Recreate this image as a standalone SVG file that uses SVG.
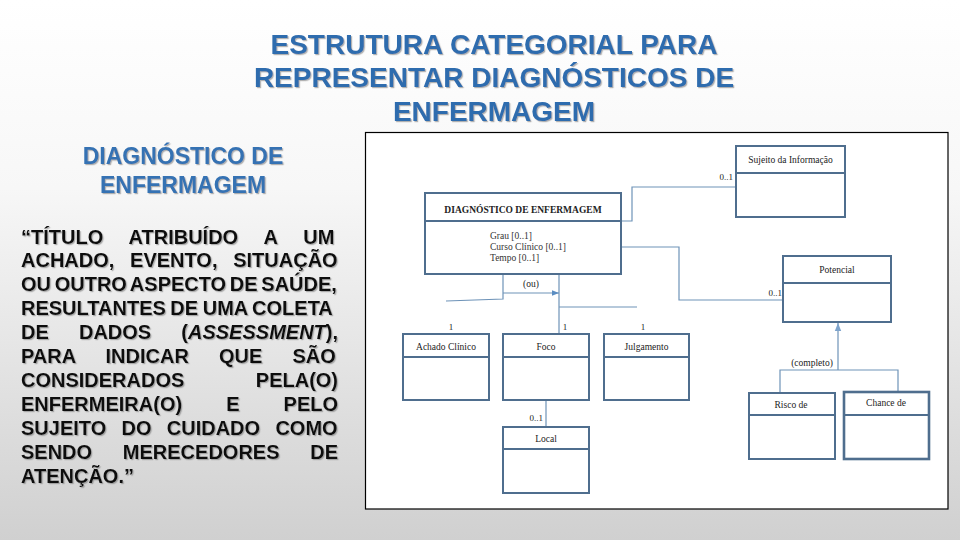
<svg xmlns="http://www.w3.org/2000/svg" width="960" height="540" viewBox="0 0 960 540">
<defs>
<linearGradient id="bg" x1="0" y1="0" x2="0" y2="1">
<stop offset="0" stop-color="#ffffff"/>
<stop offset="0.35" stop-color="#f7f7f7"/>
<stop offset="1" stop-color="#d0d0d0"/>
</linearGradient>
<filter id="sh" x="-5%" y="-20%" width="110%" height="140%">
<feDropShadow dx="1.2" dy="1.2" stdDeviation="0.6" flood-color="#808080" flood-opacity="0.6"/>
</filter>
<marker id="arr" viewBox="0 0 10 10" refX="10" refY="5" markerWidth="7" markerHeight="7" markerUnits="userSpaceOnUse" orient="auto">
<path d="M0,1 L10,5 L0,9 z" fill="#5b8dc2"/>
</marker>
<marker id="gen" viewBox="0 0 10 10" refX="10" refY="5" markerWidth="8" markerHeight="8" markerUnits="userSpaceOnUse" orient="auto">
<path d="M0,1 L10,5 L0,9 z" fill="#7ea4cc"/>
</marker>
<style>
.title{font-family:"Liberation Sans",Arial,sans-serif;font-weight:bold;font-size:28px;fill:#2f6cae;text-anchor:middle}
.head{font-family:"Liberation Sans",Arial,sans-serif;font-weight:bold;font-size:23px;fill:#3572b3;text-anchor:middle}
.body{font-family:"Liberation Sans",Arial,sans-serif;font-weight:bold;font-size:20px;fill:#111}
.box rect{fill:#ffffff;stroke:#4f6e8e;stroke-width:2}
.box line{stroke:#4f6e8e;stroke-width:2}
.lbl{font-family:"Liberation Serif","Times New Roman",serif;font-size:9.5px;fill:#222;text-anchor:middle}
.attr{font-family:"Liberation Serif","Times New Roman",serif;font-size:9.5px;fill:#333}
.mult{font-family:"Liberation Serif","Times New Roman",serif;font-size:9px;fill:#222}
.conn path{fill:none;stroke:#6e93b8;stroke-width:1.2}
</style>
</defs>
<rect x="0" y="0" width="960" height="540" fill="url(#bg)"/>

<g id="title" filter="url(#sh)">
<text class="title" x="494" y="54">ESTRUTURA CATEGORIAL PARA</text>
<text class="title" x="494" y="87">REPRESENTAR DIAGNÓSTICOS DE</text>
<text class="title" x="494" y="121">ENFERMAGEM</text>
</g>

<g id="definition" filter="url(#sh)">
<text class="head" x="183" y="164">DIAGNÓSTICO DE</text>
<text class="head" x="183" y="193">ENFERMAGEM</text>
<text class="body" x="21" y="243.5" word-spacing="20.49">“TÍTULO ATRIBUÍDO A UM</text>
<text class="body" x="21" y="267.4" word-spacing="10.16">ACHADO, EVENTO, SITUAÇÃO</text>
<text class="body" x="21" y="291.3" word-spacing="-1.87">OU OUTRO ASPECTO DE SAÚDE,</text>
<text class="body" x="21" y="315.2" word-spacing="-1">RESULTANTES DE UMA COLETA</text>
<text class="body" x="21" y="339.1" word-spacing="24.6">DE DADOS (<tspan font-style="italic">ASSESSMENT</tspan>),</text>
<text class="body" x="21" y="363" word-spacing="24.55">PARA INDICAR QUE SÃO</text>
<text class="body" x="21" y="386.9" word-spacing="65.88">CONSIDERADOS PELA(O)</text>
<text class="body" x="21" y="410.8" word-spacing="38.49">ENFERMEIRA(O) E PELO</text>
<text class="body" x="21" y="434.7" word-spacing="9.73">SUJEITO DO CUIDADO COMO</text>
<text class="body" x="21" y="458.6" word-spacing="25.15">SENDO MERECEDORES DE</text>
<text class="body" x="21" y="482.5">ATENÇÃO.”</text>
</g>

<rect id="frame" x="365.5" y="132.5" width="582.5" height="376.5" fill="#ffffff" stroke="#000000" stroke-width="1.2"/>

<g id="connectors" class="conn">
<path d="M621,221 H632 V187 H736"/>
<path d="M621,247 H679 V300 H783"/>
<path d="M503,274 V299 L446,301"/>
<path d="M503,293 H559" marker-end="url(#arr)"/>
<path d="M559,274 V334"/>
<path d="M559,307 H637"/>
<path d="M546,400 V427"/>
<path d="M838,370 V323" marker-end="url(#gen)"/>
<path d="M780,393 V370 H898 V392"/>
</g>

<g id="labels">
<text class="mult" x="733" y="180" text-anchor="end">0..1</text>
<text class="mult" x="782" y="296" text-anchor="end">0..1</text>
<text class="lbl" x="531" y="287">(ou)</text>
<text class="mult" x="451" y="330" text-anchor="middle">1</text>
<text class="mult" x="565" y="330" text-anchor="middle">1</text>
<text class="mult" x="643" y="330" text-anchor="middle">1</text>
<text class="mult" x="543" y="421" text-anchor="end">0..1</text>
<text class="lbl" x="812" y="366">(completo)</text>
</g>

<g id="diagnostico" class="box">
<rect x="425" y="193" width="196" height="81"/>
<line x1="425" y1="221" x2="621" y2="221"/>
<text class="lbl" x="523" y="212.5" font-weight="bold" font-size="10.7px">DIAGNÓSTICO DE ENFERMAGEM</text>
<text class="attr" x="490" y="239">Grau [0..1]</text>
<text class="attr" x="490" y="250">Curso Clínico [0..1]</text>
<text class="attr" x="490" y="261">Tempo [0..1]</text>
</g>

<g id="sujeito" class="box">
<rect x="736" y="146" width="109" height="71"/>
<line x1="736" y1="173" x2="845" y2="173"/>
<text class="lbl" x="790.5" y="162.5">Sujeito da Informação</text>
</g>

<g id="potencial" class="box">
<rect x="783" y="256" width="108" height="66"/>
<line x1="783" y1="283" x2="891" y2="283"/>
<text class="lbl" x="837" y="273">Potencial</text>
</g>

<g id="achado" class="box">
<rect x="403" y="334" width="86" height="66"/>
<line x1="403" y1="357" x2="489" y2="357"/>
<text class="lbl" x="446" y="350">Achado Clínico</text>
</g>

<g id="foco" class="box">
<rect x="503" y="334" width="86" height="66"/>
<line x1="503" y1="357" x2="589" y2="357"/>
<text class="lbl" x="546" y="350">Foco</text>
</g>

<g id="julgamento" class="box">
<rect x="604" y="334" width="85" height="66"/>
<line x1="604" y1="357" x2="689" y2="357"/>
<text class="lbl" x="646.5" y="350">Julgamento</text>
</g>

<g id="local" class="box">
<rect x="503" y="427" width="86" height="66"/>
<line x1="503" y1="449" x2="589" y2="449"/>
<text class="lbl" x="546" y="442">Local</text>
</g>

<g id="risco" class="box">
<rect x="749" y="393" width="86" height="66"/>
<line x1="749" y1="415" x2="835" y2="415"/>
<text class="lbl" x="791" y="407.5">Risco de</text>
</g>

<g id="chance" class="box">
<rect x="844" y="392" width="85" height="67" style="stroke-width:2.6"/>
<line x1="844" y1="415" x2="929" y2="415"/>
<text class="lbl" x="886" y="406">Chance de</text>
</g>
</svg>
